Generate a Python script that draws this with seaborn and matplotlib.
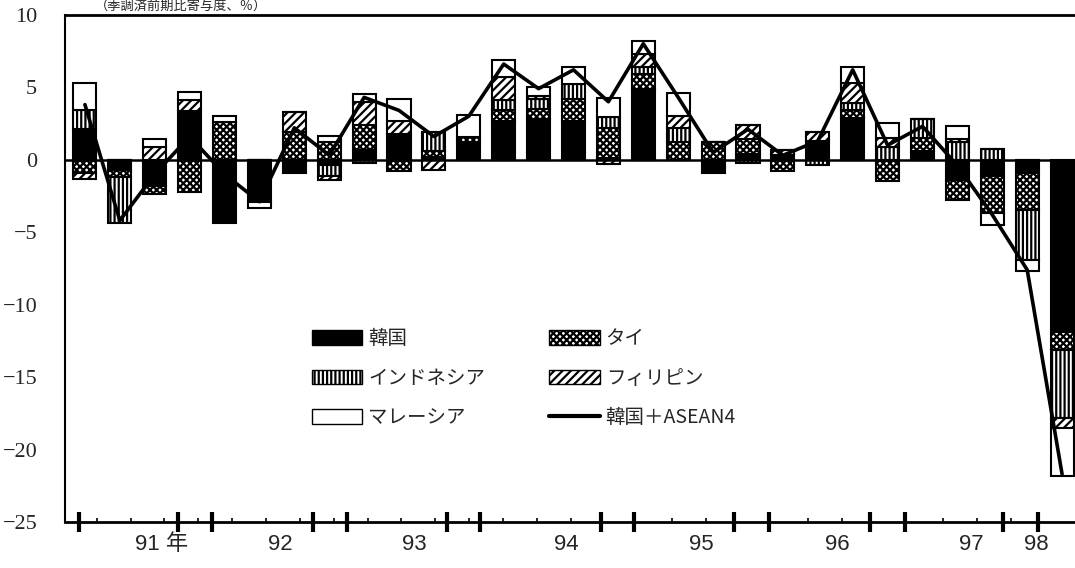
import numpy as np
import pandas as pd
import seaborn as sns
import matplotlib.pyplot as plt
from matplotlib.patches import Patch
from matplotlib.lines import Line2D

# quarterly contributions, 1991Q1 - 1998Q1 (% points, s.a. q/q)
quarters = [f"{y}Q{q}" for y in range(91, 98) for q in range(1, 5)] + ["98Q1"]
korea = [2.1, -0.7, -1.8, 3.35, -4.4, -2.9, -0.9, -0.4, 0.7, 1.8, 0.2, 1.25, 2.7, 2.8, 2.7,
         0.1, 4.9, 0.0, -0.9, 0.4, 0.3, 1.3, 2.9, -0.1, 0.6, -1.4, -1.1, -0.9, -11.9]
thai = [-0.9, -0.5, -0.55, -2.2, 2.6, 0.0, 1.9, 1.25, 1.7, -0.8, 0.4, 0.3, 0.7, 0.7, 1.5,
        2.1, 1.0, 1.2, 1.25, 1.0, -0.75, 0.0, 0.5, -1.4, 0.9, -1.4, -2.6, -2.6, -1.2]
indonesia = [1.3, -3.2, 0.0, 0.0, 0.0, 0.0, 0.0, -0.7, -0.2, 0.0, 1.3, 0.0, 0.7, 0.7, 1.0,
             0.75, 0.5, 1.0, 0.0, -0.2, 0.0, -0.4, 0.5, 0.9, 1.3, 1.2, 0.75, -3.4, -4.7]
philippines = [-0.4, 0.0, 0.9, 0.8, 0.0, 0.0, 1.4, -0.3, 1.6, 0.9, -0.7, 0.0, 1.6, 0.2, 0.0,
               -0.3, 0.9, 0.8, 0.0, 1.0, 0.4, 0.6, 1.4, 0.6, 0.0, 0.2, 0.0, 0.0, -0.7]
malaysia = [1.9, 0.0, 0.5, 0.55, 0.4, -0.4, 0.0, 0.4, 0.5, 1.5, 0.0, 1.5, 1.2, 0.6, 1.2,
            1.3, 0.9, 1.6, 0.0, 0.0, 0.0, 0.0, 1.1, 1.0, 0.0, 0.9, -0.8, -0.8, -3.3]
total = [3.8, -4.2, -1.0, 1.6, -1.0, -2.9, 2.2, 0.3, 4.3, 3.4, 1.6, 3.0, 6.6, 4.9, 6.2,
         4.0, 8.0, 4.3, 0.5, 2.1, 0.3, 1.3, 6.2, 1.0, 2.3, -0.4, -3.8, -7.6, -21.7]

year_labels = ["91 年", "92", "93", "94", "95", "96", "97", "98"]
year_label_pos = [2.2, 5.6, 9.45, 13.8, 17.65, 21.55, 25.4, 27.25]
major_ticks = [-0.17, 2.66, 3.64, 6.53, 7.5, 10.37, 11.32, 14.78, 15.73,
               18.6, 19.6, 22.5, 23.5, 26.3, 27.3]

series = {
    "韓国": (korea, dict(facecolor="black", hatch=None)),
    "タイ": (thai, dict(facecolor="white", hatch="xxxxx")),
    "インドネシア": (indonesia, dict(facecolor="white", hatch="||||")),
    "フィリピン": (philippines, dict(facecolor="white", hatch="////")),
    "マレーシア": (malaysia, dict(facecolor="white", hatch=None)),
}

sns.set_style("white")
plt.rcParams["font.family"] = ["Liberation Serif", "Noto Sans CJK JP"]
plt.rcParams["hatch.linewidth"] = 1.6
plt.rcParams["hatch.color"] = "black"

fig = plt.figure(figsize=(10.75, 5.68), dpi=100)
ax = fig.add_axes([0.0605, 0.081, 0.9395, 0.893])

x = np.arange(len(quarters))
pos_base = np.zeros(len(x))
neg_base = np.zeros(len(x))
for name, (vals, style) in series.items():
    v = np.array(vals)
    bottom = np.where(v >= 0, pos_base, neg_base)
    ax.bar(x, v, bottom=bottom, width=0.66, edgecolor="black", linewidth=1.5,
           zorder=2, **style)
    pos_base += np.where(v >= 0, v, 0)
    neg_base += np.where(v < 0, v, 0)

df_total = pd.DataFrame({"x": x, "total": total})
sns.lineplot(data=df_total, x="x", y="total", color="black", linewidth=2.6,
             zorder=4, ax=ax)

ax.axhline(0, color="black", linewidth=1.8, zorder=3)

ax.set_xlim(-0.57, 28.37)
ax.set_ylim(-25, 10)
ax.set_yticks([10, 5, 0, -5, -10, -15, -20, -25])
ax.set_yticklabels(["10", "5", "0", "\u22125", "\u221210", "\u221215", "\u221220", "\u221225"],
                   fontsize=16, family="Liberation Serif")
ax.tick_params(axis="y", left=True, length=0, pad=20)

minor = [m for m in np.arange(0.34, 28.3, 0.97) if min(abs(m - t) for t in major_ticks) > 0.2]
ax.set_xticks(major_ticks)
ax.set_xticks(minor, minor=True)
ax.set_xticklabels([])
ax.tick_params(axis="x", which="major", bottom=True, direction="inout", length=14, width=3,
               color="black")
ax.tick_params(axis="x", which="minor", bottom=True, direction="in", length=3, width=1.2,
               color="black")
for lab, p in zip(year_labels, year_label_pos):
    ax.text(p, -0.045, lab, transform=ax.get_xaxis_transform(), ha="center", va="center",
            fontsize=16, family=["Liberation Sans", "Noto Sans CJK JP"])

ax.set_xlabel("")
ax.set_ylabel("")
for side in ["top", "left", "bottom"]:
    ax.spines[side].set_visible(True)
    ax.spines[side].set_color("black")
ax.spines["top"].set_linewidth(2)
ax.spines["left"].set_linewidth(1.5)
ax.spines["bottom"].set_linewidth(2)
ax.spines["right"].set_visible(False)

fig.text(0.088, 0.999, "（季調済前期比寄与度、％）", ha="left", va="top",
         fontsize=9.5, family=["Noto Sans CJK JP"])

handles = [
    Patch(facecolor="black", edgecolor="black", label="韓国"),
    Patch(facecolor="white", edgecolor="black", hatch="||||", label="インドネシア"),
    Patch(facecolor="white", edgecolor="black", label="マレーシア"),
    Patch(facecolor="white", edgecolor="black", hatch="xxxxx", label="タイ"),
    Patch(facecolor="white", edgecolor="black", hatch="////", label="フィリピン"),
    Line2D([0], [0], color="black", linewidth=3, label="韓国＋ASEAN4"),
]
ax.legend(handles=handles, ncol=2, loc="upper left", bbox_to_anchor=(0.29, 0.422),
          bbox_transform=fig.transFigure, frameon=False,
          prop={"family": ["Noto Sans CJK JP"], "size": 14},
          handlelength=2.6, handleheight=0.75, handletextpad=0.3,
          labelspacing=0.95, columnspacing=3.3, borderpad=0, borderaxespad=0)

fig.savefig("out.png", dpi=100)
